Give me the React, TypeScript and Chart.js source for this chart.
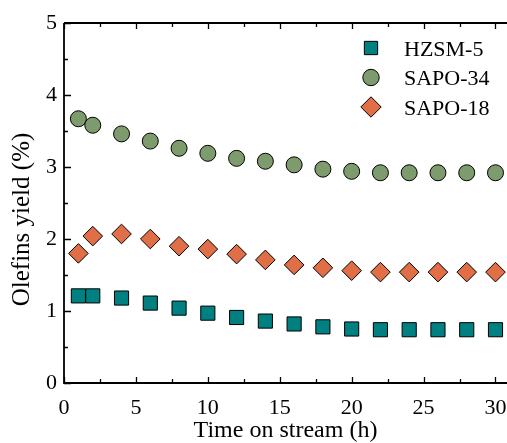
import React, { useEffect, useRef } from "react";
import { Chart, registerables } from "chart.js";

Chart.register(...registerables);

const times = [1, 2, 4, 6, 8, 10, 12, 14, 16, 18, 20, 22, 24, 26, 28, 30];
const hzsm5 = [1.21, 1.21, 1.18, 1.11, 1.04, 0.97, 0.91, 0.86, 0.82, 0.78, 0.75, 0.74, 0.74, 0.74, 0.74, 0.74];
const sapo34 = [3.67, 3.58, 3.46, 3.36, 3.26, 3.19, 3.12, 3.08, 3.03, 2.97, 2.94, 2.92, 2.92, 2.92, 2.92, 2.92];
const sapo18 = [1.8, 2.04, 2.07, 2.0, 1.9, 1.86, 1.79, 1.71, 1.64, 1.6, 1.56, 1.54, 1.54, 1.54, 1.54, 1.54];
const seriesNames = ["HZSM-5", "SAPO-34", "SAPO-18"];
const xMajorTicks = [0, 5, 10, 15, 20, 25, 30];
const xMinorTicks = [2.5, 7.5, 12.5, 17.5, 22.5, 27.5];
const yMajorTicks = [0, 1, 2, 3, 4, 5];
const yMinorTicks = [0.5, 1.5, 2.5, 3.5, 4.5];
const xTitle = "Time on stream (h)";
const yTitle = "Olefins yield (%)";

const FONT = "'Liberation Serif', 'Times New Roman', serif";
const COLORS = ["#008080", "#7e9b6e", "#e06e46"];
const STYLES = ["rect", "circle", "rectRot"];
const RADII = [10, 8, 9.8];

function drawMarker(ctx: CanvasRenderingContext2D, style: string, x: number, y: number, r: number, fill: string) {
  ctx.save();
  ctx.beginPath();
  if (style === "rect") {
    const s = Math.SQRT1_2 * r;
    ctx.rect(x - s, y - s, 2 * s, 2 * s);
  } else if (style === "circle") {
    ctx.arc(x, y, r, 0, Math.PI * 2);
  } else {
    ctx.moveTo(x - r, y);
    ctx.lineTo(x, y - r);
    ctx.lineTo(x + r, y);
    ctx.lineTo(x, y + r);
    ctx.closePath();
  }
  ctx.fillStyle = fill;
  ctx.fill();
  ctx.lineWidth = 1;
  ctx.strokeStyle = "#000";
  ctx.stroke();
  ctx.restore();
}

const framePlugin = {
  id: "frameTicks",
  afterDraw(chart: any) {
    const ctx = chart.ctx as CanvasRenderingContext2D;
    const { left, right, top, bottom } = chart.chartArea;
    const xs = chart.scales.x;
    const ys = chart.scales.y;
    ctx.save();
    ctx.strokeStyle = "#000";
    ctx.lineWidth = 1.8;
    ctx.beginPath();
    ctx.moveTo(left, top);
    ctx.lineTo(left, bottom);
    ctx.lineTo(right + 2, bottom);
    ctx.moveTo(left, top);
    ctx.lineTo(right + 2, top);
    ctx.stroke();
    ctx.lineWidth = 1.3;
    ctx.beginPath();
    const xt = (v: number, len: number) => {
      const px = Math.round(xs.getPixelForValue(v)) + 0.5;
      ctx.moveTo(px, bottom);
      ctx.lineTo(px, bottom - len);
      ctx.moveTo(px, top);
      ctx.lineTo(px, top + len);
    };
    xMajorTicks.forEach((v) => xt(v, 6));
    xMinorTicks.forEach((v) => xt(v, 4));
    const yt = (v: number, len: number) => {
      const py = Math.round(ys.getPixelForValue(v)) + 0.5;
      ctx.moveTo(left, py);
      ctx.lineTo(left + len, py);
    };
    yMajorTicks.forEach((v) => yt(v, 7));
    yMinorTicks.forEach((v) => yt(v, 4));
    ctx.stroke();

    // y axis title
    ctx.fillStyle = "#000";
    ctx.font = `25px ${FONT}`;
    ctx.translate(29, 219.5);
    ctx.rotate(-Math.PI / 2);
    ctx.textAlign = "center";
    ctx.textBaseline = "alphabetic";
    ctx.fillText(yTitle, 0, 0);
    ctx.restore();

    // legend
    ctx.save();
    ctx.font = `22px ${FONT}`;
    ctx.fillStyle = "#000";
    ctx.textAlign = "left";
    ctx.textBaseline = "alphabetic";
    chart.data.datasets.forEach((ds: any, i: number) => {
      const cy = 48 + i * 29.5;
      const lr = [9.4, 8.2, 10.2][i];
      drawMarker(ctx, STYLES[i], 371, cy, lr, COLORS[i]);
      ctx.fillText(ds.label, 404, cy + 7.5);
    });
    ctx.restore();
  },
};

export default function App() {
  const ref = useRef<HTMLCanvasElement | null>(null);
  useEffect(() => {
    if (!ref.current) return;
    const series = [hzsm5, sapo34, sapo18];
    const chart = new Chart(ref.current, {
      type: "scatter",
      data: {
        datasets: series.map((vals, i) => ({
          label: seriesNames[i],
          data: times.map((t, j) => ({ x: t, y: vals[j] })),
          pointStyle: STYLES[i] as any,
          pointRadius: RADII[i],
          pointHoverRadius: RADII[i],
          pointBackgroundColor: COLORS[i],
          pointBorderColor: "#000",
          pointBorderWidth: 1,
          showLine: false,
          clip: false as any,
        })),
      },
      options: {
        responsive: false,
        animation: false,
        events: [],
        layout: { autoPadding: false, padding: { top: 23, left: 0, right: 0, bottom: 0 } },
        plugins: {
          legend: { display: false },
          tooltip: { enabled: false },
        },
        scales: {
          x: {
            type: "linear",
            min: 0,
            max: 30.8,
            afterFit: (s: any) => {
              s.height = 60;
              s.paddingRight = 0;
              s.paddingLeft = 0;
            },
            ticks: {
              stepSize: 5,
              includeBounds: false,
              autoSkip: false,
              maxRotation: 0,
              padding: 12,
              color: "#000",
              font: { family: FONT, size: 22 },
            },
            grid: { display: false, drawTicks: false },
            border: { display: false },
            title: {
              display: true,
              text: xTitle,
              color: "#000",
              font: { family: FONT, size: 24, lineHeight: 1 },
              padding: { top: 0, bottom: 0 },
            },
          },
          y: {
            type: "linear",
            min: 0,
            max: 5,
            afterFit: (s: any) => {
              s.width = 64;
              s.paddingTop = 0;
              s.paddingBottom = 0;
            },
            ticks: {
              stepSize: 1,
              padding: 7,
              color: "#000",
              font: { family: FONT, size: 22 },
            },
            grid: { display: false, drawTicks: false },
            border: { display: false },
          },
        },
      },
      plugins: [framePlugin],
    });
    return () => chart.destroy();
  }, []);
  return (
    <div style={{ position: "fixed", left: 0, top: 0, width: 507, height: 443, background: "#fff" }}>
      <canvas ref={ref} width={507} height={443} style={{ display: "block" }} />
    </div>
  );
}
